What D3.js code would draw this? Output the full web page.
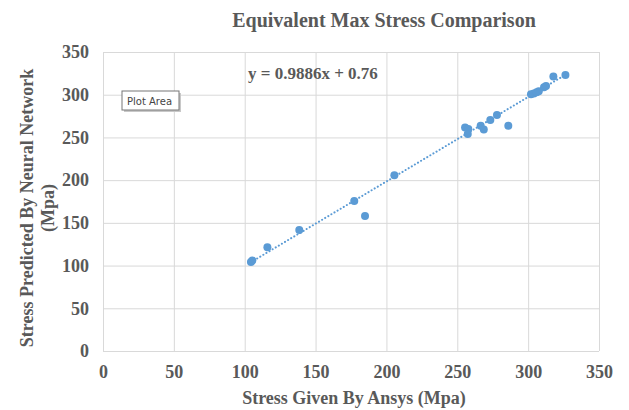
<!DOCTYPE html>
<html>
<head>
<meta charset="utf-8">
<script src="https://cdn.jsdelivr.net/npm/d3@7"></script>
<style>
  html, body { margin: 0; padding: 0; background: #fff; }
  svg { display: block; }
</style>
</head>
<body>
<svg id="chart" width="629" height="410"></svg>
<script>
// Stress from Ansys (x) versus stress predicted by the neural network (y), in MPa
const ansysStress = [104.4, 105.4, 116, 138.5, 177.3, 184.9, 205.6, 255.5, 257.8, 257.4, 266.5, 268.7,
                     273.3, 278, 286, 302, 304, 306, 307.5, 311.2, 312.6, 317.8, 326.3];
const predictedStress = [104.3, 106, 121.4, 141.7, 175.6, 158, 205.7, 261.5, 260, 254, 263.8, 259.2,
                         270.5, 276.3, 263.8, 300.5, 301.5, 303, 304, 308.8, 310.3, 321.2, 323.2];
const xTicks = [0, 50, 100, 150, 200, 250, 300, 350];
const yTicks = [0, 50, 100, 150, 200, 250, 300, 350];
const slope = 0.9886;
const intercept = 0.76;

const svg = d3.select("#chart");
const plotLeft = 103, plotRight = 599, plotTop = 52, plotBottom = 351;

const x = d3.scaleLinear().domain([0, 350]).range([plotLeft, plotRight]);
const y = d3.scaleLinear().domain([0, 350]).range([plotBottom, plotTop]);

const serif = "'Liberation Serif', 'Times New Roman', serif";
const textGray = "#595959";
const blue = "#5B9BD5";

// gridlines
svg.append("g")
  .attr("transform", `translate(0,${plotBottom})`)
  .call(d3.axisBottom(x).tickValues(xTicks).tickSize(-(plotBottom - plotTop)).tickFormat(""))
  .call(g => g.select(".domain").remove())
  .call(g => g.selectAll("line").attr("stroke", "#d9d9d9").attr("stroke-width", 1));
svg.append("g")
  .attr("transform", `translate(${plotLeft},0)`)
  .call(d3.axisLeft(y).tickValues(yTicks).tickSize(-(plotRight - plotLeft)).tickFormat(""))
  .call(g => g.select(".domain").remove())
  .call(g => g.selectAll("line").attr("stroke", "#d9d9d9").attr("stroke-width", 1));

// tick labels
svg.append("g")
  .attr("transform", `translate(0,${plotBottom})`)
  .call(d3.axisBottom(x).tickValues(xTicks).tickSize(0).tickPadding(14))
  .call(g => g.select(".domain").remove())
  .call(g => g.selectAll("text")
    .attr("font-family", serif).attr("font-size", 18).attr("font-weight", "bold")
    .attr("fill", textGray));
svg.append("g")
  .attr("transform", `translate(${plotLeft},0)`)
  .call(d3.axisLeft(y).tickValues(yTicks).tickSize(0).tickPadding(14))
  .call(g => g.select(".domain").remove())
  .call(g => g.selectAll("text")
    .attr("font-family", serif).attr("font-size", 18).attr("font-weight", "bold")
    .attr("fill", textGray));

// linear trendline across the data range
const xMin = d3.min(ansysStress), xMax = d3.max(ansysStress);
svg.append("line")
  .attr("x1", x(xMin)).attr("y1", y(slope * xMin + intercept))
  .attr("x2", x(xMax)).attr("y2", y(slope * xMax + intercept))
  .attr("stroke", blue).attr("stroke-width", 2)
  .attr("stroke-dasharray", "0.1,3.5").attr("stroke-linecap", "round");

// data points
svg.append("g").selectAll("circle")
  .data(ansysStress.map((v, i) => [v, predictedStress[i]]))
  .join("circle")
  .attr("cx", d => x(d[0])).attr("cy", d => y(d[1]))
  .attr("r", 4).attr("fill", blue);

// title
svg.append("text")
  .attr("x", 384).attr("y", 27).attr("text-anchor", "middle")
  .attr("font-family", serif).attr("font-size", 20).attr("font-weight", "bold")
  .attr("fill", textGray)
  .text("Equivalent Max Stress Comparison");

// trendline equation
svg.append("text")
  .attr("x", 248).attr("y", 79)
  .attr("font-family", serif).attr("font-size", 17).attr("font-weight", "bold")
  .attr("fill", textGray)
  .text(`y = ${slope}x + ${intercept}`);

// axis titles
svg.append("text")
  .attr("x", 354).attr("y", 404).attr("text-anchor", "middle")
  .attr("font-family", serif).attr("font-size", 18).attr("font-weight", "bold")
  .attr("fill", textGray)
  .text("Stress Given By Ansys (Mpa)");
const yTitle = svg.append("text")
  .attr("transform", "translate(33,208) rotate(-90)")
  .attr("text-anchor", "middle")
  .attr("font-family", serif).attr("font-size", 18).attr("font-weight", "bold")
  .attr("fill", textGray);
yTitle.append("tspan").attr("x", 0).attr("dy", 0).text("Stress Predicted By Neural Network");
yTitle.append("tspan").attr("x", 0).attr("dy", 21).text("(Mpa)");

// hover label for the plot area
const tip = svg.append("g").attr("transform", "translate(122,91)");
tip.append("rect").attr("x", 2).attr("y", 2).attr("width", 57).attr("height", 19)
  .attr("fill", "#c8c8c8");
tip.append("rect").attr("x", 0).attr("y", 0).attr("width", 57).attr("height", 19)
  .attr("fill", "#fff").attr("stroke", "#767676").attr("stroke-width", 1);
tip.append("text").attr("x", 5).attr("y", 13.5)
  .attr("font-family", "'DejaVu Sans', 'Noto Sans', sans-serif").attr("font-size", 10)
  .attr("fill", "#444")
  .text("Plot Area");
</script>
</body>
</html>
